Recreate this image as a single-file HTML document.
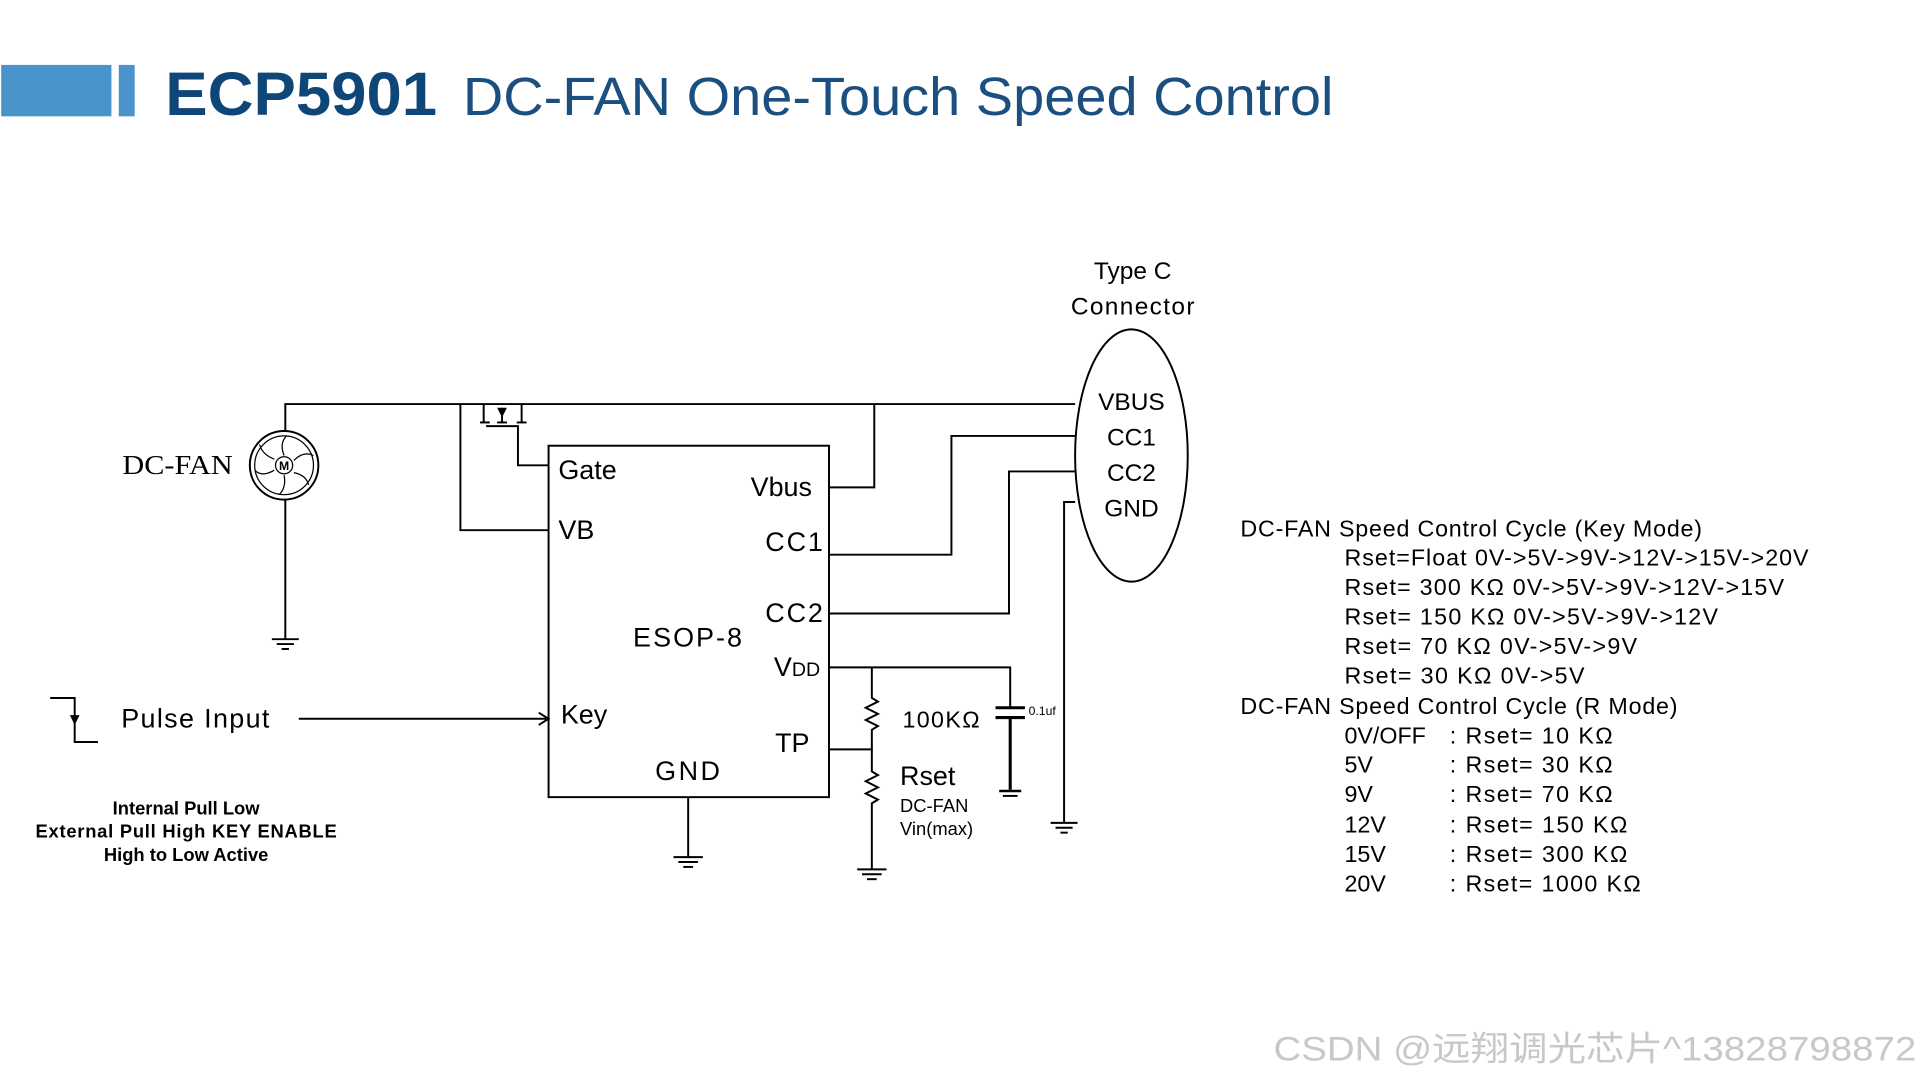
<!DOCTYPE html>
<html><head><meta charset="utf-8"><style>html,body{margin:0;padding:0;background:#fff}svg{display:block}</style></head><body>
<svg width="1920" height="1080" viewBox="0 0 1568 882" preserveAspectRatio="none" xmlns="http://www.w3.org/2000/svg" font-family="Liberation Sans, sans-serif" xml:space="preserve">
<rect x="1" y="53" width="90" height="42" fill="#4a94cc"/>
<rect x="97" y="53" width="13" height="42" fill="#4a94cc"/>
<text x="135" y="94" font-size="50" font-weight="bold" fill="#0e4677" textLength="222" lengthAdjust="spacingAndGlyphs">ECP5901</text>
<text x="378" y="94" font-size="44" fill="#1a4f80" textLength="711" lengthAdjust="spacingAndGlyphs">DC-FAN One-Touch Speed Control</text>

<g stroke="#000" stroke-width="1.6" fill="none">
<rect x="448" y="364" width="229" height="287"/>
<polyline points="233,352 233,330 878,330"/>
<polyline points="233,408 233,522"/>
<line x1="222" y1="522" x2="244" y2="522"/><line x1="226" y1="526" x2="240" y2="526"/><line x1="230" y1="530" x2="236" y2="530"/>
<circle cx="232" cy="380" r="28"/>
<circle cx="232" cy="380" r="24" stroke-width="1"/>
<polyline points="376,330 376,433 448,433"/>
<line x1="395" y1="330" x2="395" y2="345"/>
<line x1="392" y1="345" x2="400" y2="345"/>
<line x1="410" y1="333" x2="410" y2="345"/><line x1="406" y1="345" x2="414" y2="345"/>
<line x1="426" y1="330" x2="426" y2="345"/><line x1="422" y1="345" x2="430" y2="345"/>
<polyline points="397,348 423,348 423,380 448,380"/>
<polyline points="677,398 714,398 714,330"/>
<polyline points="677,453 777,453 777,356 878,356"/>
<polyline points="677,501 824,501 824,385 878,385"/>
<polyline points="878,410 869,410 869,672"/>
<line x1="858" y1="672" x2="880" y2="672"/><line x1="862" y1="676" x2="876" y2="676"/><line x1="866" y1="680" x2="872" y2="680"/>
<polyline points="677,545 825,545 825,578"/>
<line x1="813" y1="578" x2="837" y2="578" stroke-width="2.5"/>
<line x1="813" y1="586" x2="837" y2="586" stroke-width="2.5"/>
<line x1="825" y1="586" x2="825" y2="645" stroke-width="2.5"/>
<line x1="816" y1="646" x2="834" y2="646" stroke-width="2"/><line x1="819" y1="650" x2="831" y2="650"/>
<polyline points="712,545 712,570 717,573 707,578 717,583 707,588 717,593 712,596 712,612"/>
<polyline points="677,612 712,612 712,630 717,633 707,638 717,643 707,648 717,653 712,656 712,710"/>
<line x1="700" y1="710" x2="724" y2="710"/><line x1="704" y1="714" x2="720" y2="714"/><line x1="708" y1="718" x2="716" y2="718"/>
<polyline points="562,651 562,700"/>
<line x1="550" y1="700" x2="574" y2="700"/><line x1="554" y1="704" x2="570" y2="704"/><line x1="558" y1="708" x2="566" y2="708"/>
<line x1="244" y1="587" x2="446" y2="587"/>
<polyline points="440,582 448,587 440,592"/>
<polyline points="41,570 61,570 61,606 80,606"/>
<ellipse cx="924" cy="372" rx="46" ry="103"/>
</g>
<polygon points="406,333 414,333 410,341" fill="#000"/>
<polygon points="57,584 65,584 61,592" fill="#000"/>
<g stroke="#000" stroke-width="1" fill="none">
<path d="M232,372 q-4,-10 2,-16 M240,376 q8,-8 16,-4 M240,386 q10,2 12,10 M232,388 q2,10 -4,16 M224,384 q-10,6 -16,0 M224,375 q-10,-4 -12,-12"/>
</g>
<circle cx="232" cy="380" r="7" fill="#fff" stroke="#000"/>
<text x="232" y="384" font-size="10" font-weight="bold" text-anchor="middle">M</text>

<text x="100" y="387" font-size="22" font-family="Liberation Serif, serif" textLength="90" lengthAdjust="spacingAndGlyphs">DC-FAN</text>
<g font-size="22">
<text x="456" y="391">Gate</text>
<text x="456" y="440">VB</text>
<text x="613" y="405">Vbus</text>
<text x="625" y="450" textLength="47">CC1</text>
<text x="625" y="508" textLength="47">CC2</text>
<text x="517" y="528" textLength="89">ESOP-8</text>
<text x="632" y="552">V<tspan font-size="16">DD</tspan></text>
<text x="458" y="591">Key</text>
<text x="633" y="614">TP</text>
<text x="535" y="637" textLength="53">GND</text>
<text x="99" y="594" textLength="121">Pulse Input</text>
</g>
<text x="737" y="594" font-size="19" textLength="63">100KΩ</text>
<text x="735" y="641" font-size="22">Rset</text>
<text x="735" y="663" font-size="15">DC-FAN</text>
<text x="735" y="682" font-size="15">Vin(max)</text>
<text x="840" y="584" font-size="10">0.1uf</text>
<g font-size="15" font-weight="bold" text-anchor="middle">
<text x="152" y="665">Internal Pull Low</text>
<text x="152" y="684" textLength="246">External Pull High KEY ENABLE</text>
<text x="152" y="703">High to Low Active</text>
</g>
<g font-size="20" text-anchor="middle">
<text x="925" y="228">Type C</text>
<text x="925" y="257" textLength="101">Connector</text>
<text x="924" y="335">VBUS</text>
<text x="924" y="364">CC1</text>
<text x="924" y="393">CC2</text>
<text x="924" y="422">GND</text>
</g>
<g font-size="19">
<text x="1013" y="438" textLength="377">DC-FAN Speed Control Cycle (Key Mode)</text>
<text x="1098" y="462" textLength="379">Rset=Float 0V-&gt;5V-&gt;9V-&gt;12V-&gt;15V-&gt;20V</text>
<text x="1098" y="486" textLength="359">Rset=  300 KΩ 0V-&gt;5V-&gt;9V-&gt;12V-&gt;15V</text>
<text x="1098" y="510" textLength="305">Rset=  150 KΩ 0V-&gt;5V-&gt;9V-&gt;12V</text>
<text x="1098" y="534" textLength="239">Rset=  70 KΩ 0V-&gt;5V-&gt;9V</text>
<text x="1098" y="558" textLength="196">Rset=  30 KΩ 0V-&gt;5V</text>
<text x="1013" y="583" textLength="357">DC-FAN Speed Control Cycle (R Mode)</text>
<text x="1098" y="607">0V/OFF</text><text x="1184" y="607" textLength="133">: Rset=  10 KΩ</text>
<text x="1098" y="631">5V</text><text x="1184" y="631" textLength="133">: Rset=  30 KΩ</text>
<text x="1098" y="655">9V</text><text x="1184" y="655" textLength="133">: Rset=  70 KΩ</text>
<text x="1098" y="680">12V</text><text x="1184" y="680" textLength="145">: Rset=  150 KΩ</text>
<text x="1098" y="704">15V</text><text x="1184" y="704" textLength="145">: Rset=  300 KΩ</text>
<text x="1098" y="728">20V</text><text x="1184" y="728" textLength="156">: Rset=  1000 KΩ</text>
</g>
<text x="1040" y="866" font-size="28" fill="#c8c8c8" font-family="Liberation Sans, Noto Sans CJK SC, sans-serif" textLength="525" lengthAdjust="spacingAndGlyphs">CSDN @远翔调光芯片^13828798872</text>
</svg>
</body></html>
